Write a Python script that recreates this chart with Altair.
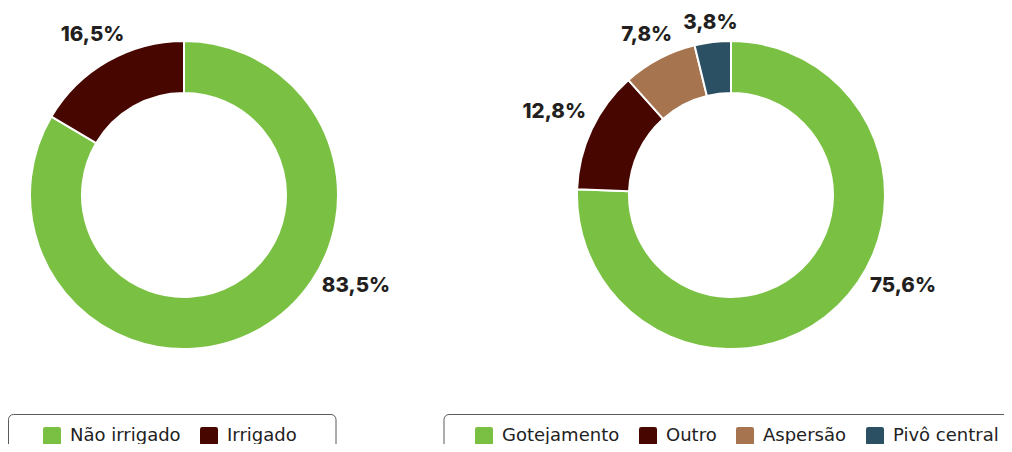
import math
import altair as alt
import pandas as pd

# ---- data -------------------------------------------------------------
left_categories = ["Não irrigado", "Irrigado"]
left_values = [83.5, 16.5]
left_labels = ["83,5%", "16,5%"]
left_colors = ["#7ac143", "#470700"]

right_categories = ["Gotejamento", "Outro", "Aspersão", "Pivô central"]
right_values = [75.6, 12.8, 7.8, 3.8]
right_labels = ["75,6%", "12,8%", "7,8%", "3,8%"]
right_colors = ["#7ac143", "#470700", "#a6744f", "#2c5063"]

# ---- layout constants --------------------------------------------------
W, H = 996, 436
LEFT_C = (176, 187)
RIGHT_C = (723, 187)
R_OUT, R_IN = 154, 102
LABEL_R0 = 166
MAX_RIGHT_ANGLE = math.radians(118)
FONT = "Inter"
LEGEND_FONT = "DejaVu Sans"


def label_table(cats, vals, labels):
    total = sum(vals)
    cum = 0.0
    rows = []
    for i, (c, v, l) in enumerate(zip(cats, vals, labels)):
        mid = (cum + v / 2) / total * 2 * math.pi
        cum += v
        ang = min(mid, MAX_RIGHT_ANGLE) if mid < math.pi else mid
        w = 11 * len(l) + 6
        h = 8
        dist = LABEL_R0 + abs(math.sin(ang)) * w / 2 + abs(math.cos(ang)) * h / 2
        rows.append(dict(cat=c, val=v, label=l, order=i, ang=ang, dist=dist))
    return pd.DataFrame(rows)


left_df = label_table(left_categories, left_values, left_labels)
right_df = label_table(right_categories, right_values, right_labels)

ROUND_SQUARE = ("M-0.75,-1 H0.75 Q1,-1 1,-0.75 V0.75 Q1,1 0.75,1 H-0.75 "
                "Q-1,1 -1,0.75 V-0.75 Q-1,-1 -0.75,-1 Z")


def legend(x, y):
    return alt.Legend(
        title=None, orient="none", legendX=x, legendY=y, direction="horizontal",
        symbolType=ROUND_SQUARE, symbolSize=324, symbolStrokeWidth=0,
        symbolOpacity=1, labelFont=LEGEND_FONT, labelFontSize=18,
        labelColor="#222222", labelOffset=9, columnPadding=19, padding=0,
        labelLimit=300,
    )


def donut(df, cats, colors, center, lx, ly):
    arc = alt.Chart(df).mark_arc(
        innerRadius=R_IN, outerRadius=R_OUT, stroke="white", strokeWidth=2
    ).encode(
        theta=alt.Theta("val:Q", stack=True),
        order=alt.Order("order:Q"),
        color=alt.Color("cat:N", scale=alt.Scale(domain=cats, range=colors),
                        sort=cats, legend=legend(lx, ly)),
        x=alt.value(center[0]),
        y=alt.value(center[1]),
    )
    text = alt.Chart(df).mark_text(
        font=FONT, fontSize=20.5, fontWeight=800, color="#231f20",
        align="center", baseline="middle",
    ).encode(
        theta=alt.Theta("ang:Q", scale=None, stack=False),
        radius=alt.Radius("dist:Q", scale=None),
        text="label:N",
        x=alt.value(center[0]),
        y=alt.value(center[1]),
    )
    return arc, text


box_df = pd.DataFrame({"box": ["frame"]})
left_box = alt.Chart(box_df).mark_rect(
    cornerRadius=5, fill="white", stroke="#5a5a5a", strokeWidth=1
).encode(x=alt.value(0.5), x2=alt.value(328), y=alt.value(406.5), y2=alt.value(480))
right_box = alt.Chart(box_df).mark_rect(
    cornerRadius=5, fill="white", stroke="#5a5a5a", strokeWidth=1
).encode(x=alt.value(436), x2=alt.value(1060), y=alt.value(406.5), y2=alt.value(480))

l_arc, l_text = donut(left_df, left_categories, left_colors, LEFT_C, 35, 419)
r_arc, r_text = donut(right_df, right_categories, right_colors, RIGHT_C, 467, 419)

chart = alt.layer(
    left_box, right_box, l_arc, l_text, r_arc, r_text
).resolve_scale(
    color="independent", theta="independent", radius="independent"
).properties(
    width=W, height=H, autosize=alt.AutoSizeParams(type="none"), padding=0
).configure_view(stroke=None)

chart.save("out.html", embed_options={"renderer": "svg", "actions": False})
